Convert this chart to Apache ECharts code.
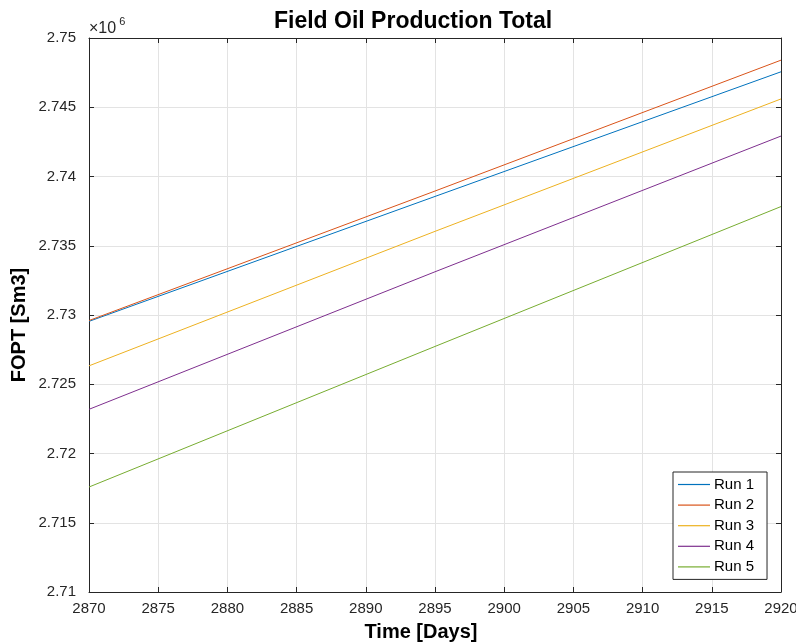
<!DOCTYPE html>
<html><head><meta charset="utf-8">
<script src="https://cdn.jsdelivr.net/npm/echarts@6/dist/echarts.min.js"></script>
<style>html,body{margin:0;padding:0;background:#fff}#c{width:796px;height:642px}</style>
</head><body><div id="c"></div>
<script>
const days = [2870, 2895, 2920];
const run1 = [2729540, 2738560, 2747560];
const run2 = [2729600, 2738950, 2748400];
const run3 = [2726330, 2736040, 2745600];
const run4 = [2723190, 2733120, 2742920];
const run5 = [2717580, 2727730, 2737830];
const seriesNames = ['Run 1', 'Run 2', 'Run 3', 'Run 4', 'Run 5'];
const seriesData = [run1, run2, run3, run4, run5];
const colors = ['#0072BD', '#D95319', '#EDB120', '#7E2F8E', '#77AC30'];
const FONT = 'Liberation Sans, Arial, Helvetica, sans-serif';
const AX = '#262626';

const chart = echarts.init(document.getElementById('c'), null, {renderer: 'canvas'});
const baseX = {type: 'value', min: 2870, max: 2920, interval: 5};
const baseY = {type: 'value', min: 2710000, max: 2750000, interval: 5000};
chart.setOption({
  animation: false,
  color: colors,
  title: {
    text: 'Field Oil Production Total', left: 269, top: 5,
    textStyle: {fontFamily: FONT, fontSize: 23, fontWeight: 'bold', color: '#000'}
  },
  grid: {left: 89, right: 15, top: 38, bottom: 50, containLabel: false, outerBoundsMode: 'none'},
  legend: {
    orient: 'vertical', left: 673, top: 472,
    data: seriesNames,
    icon: 'rect', itemWidth: 32, itemHeight: 1.2, itemGap: 5.6,
    padding: [5, 13, 5, 5],
    backgroundColor: '#fff', borderColor: AX, borderWidth: 1,
    textStyle: {fontFamily: FONT, fontSize: 15, color: '#000', padding: [0, 0, 0, -1]}
  },
  graphic: [{
    type: 'text', left: 89, top: 16,
    style: {
      text: '{a|×10}{b| 6}',
      rich: {
        a: {fontFamily: FONT, fontSize: 16, fill: '#262626', verticalAlign: 'bottom', padding: [5, 0, 0, 0]},
        b: {fontFamily: FONT, fontSize: 11, fill: '#262626', verticalAlign: 'top'}
      }
    }
  }, {
    type: 'text', x: 421, y: 632,
    style: {text: 'Time [Days]', fontFamily: FONT, fontSize: 20, fontWeight: 'bold', fill: '#000',
      align: 'center', verticalAlign: 'middle'}
  }, {
    type: 'text', x: 19, y: 325, rotation: Math.PI / 2,
    style: {text: 'FOPT [Sm3]', fontFamily: FONT, fontSize: 20, fontWeight: 'bold', fill: '#000',
      align: 'center', verticalAlign: 'middle'}
  }],
  xAxis: [
    Object.assign({}, baseX, {
      position: 'bottom',
      axisLine: {show: true, lineStyle: {color: AX, width: 1}},
      axisTick: {show: true, inside: true, length: 5, lineStyle: {color: AX}},
      axisLabel: {fontFamily: FONT, fontSize: 15, color: '#262626', margin: 9, formatter: v => String(v)},
      splitLine: {show: true, lineStyle: {color: '#e3e3e3', width: 1}}
    }),
    Object.assign({}, baseX, {
      position: 'top',
      axisLine: {show: true, lineStyle: {color: AX, width: 1}},
      axisTick: {show: true, inside: true, length: 5, lineStyle: {color: AX}},
      axisLabel: {show: false}, splitLine: {show: false}
    })
  ],
  yAxis: [
    Object.assign({}, baseY, {
      position: 'left',
      axisLine: {show: true, lineStyle: {color: AX, width: 1}},
      axisTick: {show: true, inside: true, length: 5, lineStyle: {color: AX}},
      axisLabel: {fontFamily: FONT, fontSize: 15, color: '#262626', margin: 13,
        formatter: v => String(+(v / 1e6).toFixed(3))},
      splitLine: {show: true, lineStyle: {color: '#e3e3e3', width: 1}}
    }),
    Object.assign({}, baseY, {
      position: 'right',
      axisLine: {show: true, lineStyle: {color: AX, width: 1}},
      axisTick: {show: true, inside: true, length: 5, lineStyle: {color: AX}},
      axisLabel: {show: false}, splitLine: {show: false}
    })
  ],
  series: seriesNames.map((n, i) => ({
    name: n, type: 'line', xAxisIndex: 0, yAxisIndex: 0,
    data: days.map((d, j) => [d, seriesData[i][j]]),
    showSymbol: false, symbol: 'none',
    lineStyle: {width: 1, color: colors[i]}
  }))
});
</script></body></html>
